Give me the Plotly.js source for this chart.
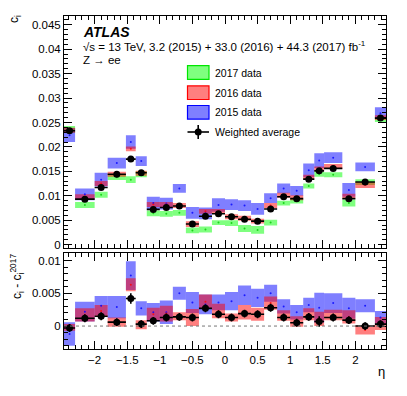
<!DOCTYPE html>
<html>
<head>
<meta charset="utf-8">
<script src="https://cdn.plot.ly/plotly-3.0.1.min.js"></script>
<style>html,body{margin:0;padding:0;background:#fff;}#plot{width:407px;height:396px;}</style>
</head>
<body>
<div id="plot"></div>
<script>
// ---- data ----
const etaEdges = [-2.47,-2.3,-2.0,-1.8,-1.52,-1.37,-1.2,-1.0,-0.8,-0.6,-0.4,-0.2,0,0.2,0.4,0.6,0.8,1.0,1.2,1.37,1.52,1.8,2.0,2.3,2.47];
const c2017 = [0.0236,0.0081,0.0102,0.0138,0.0133,0.0144,0.0064,0.0063,0.0065,0.0029,0.0031,0.0045,0.0044,0.0033,0.0030,0.0045,0.0085,0.0089,0.0120,0.0144,0.0143,0.0085,0.0128,0.0256];
const e2017 = [0.0007,0.0006,0.0006,0.0006,0.0007,0.0006,0.0006,0.0006,0.0006,0.0006,0.0006,0.0005,0.0006,0.0007,0.0008,0.0006,0.0005,0.0005,0.0005,0.0005,0.0005,0.0007,0.0006,0.0005];
// differences with respect to 2017 (lower panel)
const d2016 = [-0.0002,0.0017,0.0023,0.0006,0.0063,0.0002,0.0018,0.0019,0.0015,0.0013,0.0037,0.0023,0.0013,0.0021,0.0018,0.0035,0.0016,0.0007,0.0018,0.0011,0.0017,0.0014,-0.0006,0.0004];
const d2015 = [-0.0012,0.0022,0.0031,0.0029,0.0077,0.0027,0.0021,0.0021,0.0050,0.0036,0.0033,0.0036,0.0038,0.0047,0.0043,0.0050,0.0030,0.0021,0.0032,0.0028,0.0035,0.0027,0.0031,0.0013];
const dAvg  = [-0.0003,0.0012,0.0015,0.0006,0.0042,0.0003,0.0008,0.0013,0.0014,0.0013,0.0027,0.0018,0.0013,0.0019,0.0018,0.0028,0.0013,0.0005,0.0014,0.0007,0.0013,0.0009,0.0000,0.0003];
// uncertainties, upper panel
const e2016 = [0.0005,0.0005,0.0005,0.0005,0.0005,0.0005,0.0005,0.0005,0.0005,0.0006,0.0005,0.0005,0.0005,0.0005,0.0005,0.0005,0.0005,0.0005,0.0005,0.0005,0.0005,0.0005,0.0006,0.0005];
const e2015 = [0.0014,0.0012,0.0014,0.0011,0.0014,0.0010,0.0013,0.0012,0.0009,0.0012,0.0012,0.0014,0.0011,0.0011,0.0012,0.0010,0.0010,0.0010,0.0014,0.0015,0.0011,0.0014,0.0009,0.0012];
const eAvgTop = [0.0004,0.0004,0.0004,0.0004,0.0005,0.0004,0.0004,0.0004,0.0004,0.0004,0.0004,0.0004,0.0004,0.0004,0.0004,0.0004,0.0004,0.0004,0.0004,0.0005,0.0004,0.0004,0.0004,0.0004];
// uncertainties, lower panel
const ed2016 = [0.0005,0.0010,0.0009,0.0007,0.0010,0.0007,0.0010,0.0012,0.0006,0.0013,0.0011,0.0011,0.0006,0.0011,0.0010,0.0010,0.0008,0.0008,0.0009,0.0011,0.0008,0.0010,0.0007,0.0010];
const ed2015 = [0.0018,0.0015,0.0015,0.0017,0.0022,0.0011,0.0014,0.0018,0.0010,0.0016,0.0015,0.0012,0.0014,0.0015,0.0014,0.0013,0.0011,0.0011,0.0011,0.0023,0.0015,0.0016,0.0010,0.0010];
const eAvgBot = [0.0006,0.0006,0.0006,0.0006,0.0008,0.0006,0.0006,0.0006,0.0006,0.0006,0.0006,0.0006,0.0006,0.0006,0.0006,0.0006,0.0006,0.0006,0.0006,0.0008,0.0006,0.0006,0.0006,0.0006];
const legendLabels = ['2017 data','2016 data','2015 data','Weighted average'];

// ---- derived ----
const centers = etaEdges.slice(0,-1).map((e,i)=> (e+etaEdges[i+1])/2);
const widths  = etaEdges.slice(0,-1).map((e,i)=> etaEdges[i+1]-e);
const halfW   = widths.map(w=>w/2);
const c2016 = c2017.map((v,i)=>v+d2016[i]);
const c2015 = c2017.map((v,i)=>v+d2015[i]);
const cAvg  = c2017.map((v,i)=>v+dAvg[i]);

const GREEN='rgba(0,255,0,0.5)', RED='rgba(255,0,0,0.5)', BLUE='rgba(0,0,255,0.5)';
const FONT='Liberation Sans, Arial, sans-serif';

function boxes(vals, errs, color, xa, ya){
  return {type:'bar', x:centers, y:errs.map(e=>2*e), base:vals.map((v,i)=>v-errs[i]),
    width:widths, marker:{color:color, line:{width:0}}, xaxis:xa, yaxis:ya,
    showlegend:false, hoverinfo:'skip'};
}
function dots(vals, color, xa, ya){
  return {type:'scatter', mode:'markers', x:centers, y:vals, marker:{color:color,size:2},
    xaxis:xa, yaxis:ya, showlegend:false, hoverinfo:'skip'};
}
function avgPts(vals, errs, xa, ya){
  return {type:'scatter', mode:'markers', x:centers, y:vals,
    marker:{color:'black', size:7},
    error_x:{type:'data', array:halfW, visible:true, width:0, thickness:1.6, color:'black'},
    error_y:{type:'data', array:errs, visible:true, width:0, thickness:1.6, color:'black'},
    xaxis:xa, yaxis:ya, showlegend:false, hoverinfo:'skip'};
}

const data = [
  boxes(c2017, e2017, GREEN, 'x','y'),
  boxes(c2015, e2015, BLUE, 'x','y'),
  boxes(c2016, e2016, RED, 'x','y'),
  dots(c2017, 'rgba(0,200,0,0.8)', 'x','y'),
  dots(c2015, 'rgba(0,0,255,0.8)', 'x','y'),
  dots(c2016, 'rgba(255,0,0,0.8)', 'x','y'),
  avgPts(cAvg, eAvgTop, 'x','y'),
  boxes(d2015, ed2015, BLUE, 'x2','y2'),
  boxes(d2016, ed2016, RED, 'x2','y2'),
  dots(d2015, 'rgba(0,0,255,0.8)', 'x2','y2'),
  dots(d2016, 'rgba(255,0,0,0.8)', 'x2','y2'),
  avgPts(dAvg, eAvgBot, 'x2','y2')
];

// pixel -> paper helpers for the plot frame (64..386 x, 16..349 y)
const L=64, R=21, T=16, B=47, W=407, H=396;
const PW=W-L-R, PH=H-T-B;
const px=p=>(p-L)/PW, py=p=>(H-B-p)/PH;

const tickFont={family:FONT,size:11.5,color:'black'};
const xCommon={range:[-2.47,2.47], showline:true, linecolor:'black', linewidth:1, mirror:'ticks',
  ticks:'inside', ticklen:8, tickcolor:'black', tick0:0, dtick:0.5, showgrid:false, zeroline:false,
  minor:{dtick:0.1, tick0:0, ticks:'inside', ticklen:4, tickcolor:'black', showgrid:false}, tickfont:tickFont};
const yCommon={showline:true, linecolor:'black', linewidth:1, mirror:'ticks', ticks:'inside', ticklen:8,
  tickcolor:'black', showgrid:false, zeroline:false, tickfont:tickFont};

const shapes=[
  {type:'line', xref:'x2', yref:'y2', x0:-2.47, x1:2.47, y0:0, y1:0, line:{color:'#777', width:1, dash:'dot'}}
];
const legColors=[[GREEN,'rgb(0,230,0)'],[RED,'rgb(255,0,0)'],[BLUE,'rgb(0,0,255)']];
const legY=[72.5,92.7,112.3];
legColors.forEach((c,i)=>{
  shapes.push({type:'rect', xref:'paper', yref:'paper', x0:px(187.5), x1:px(209), y0:py(legY[i]+6.8), y1:py(legY[i]-6.8),
    fillcolor:c[0], line:{color:c[1], width:1.2}});
});
// weighted average legend symbol
shapes.push({type:'line', xref:'paper', yref:'paper', x0:px(187.5), x1:px(209), y0:py(132), y1:py(132), line:{color:'black',width:1.6}});
shapes.push({type:'line', xref:'paper', yref:'paper', x0:px(198.2), x1:px(198.2), y0:py(125), y1:py(139), line:{color:'black',width:1.6}});
shapes.push({type:'circle', xref:'paper', yref:'paper', x0:px(194.7), x1:px(201.7), y0:py(135.5), y1:py(128.5), fillcolor:'black', line:{color:'black',width:0}});

const annotations=[
  {text:'<b><i>ATLAS</i></b>', xref:'paper', yref:'paper', x:px(81), y:py(32), xanchor:'left', yanchor:'middle', showarrow:false, font:{family:FONT,size:14,color:'black'}},
  {text:'√s = 13 TeV, 3.2 (2015) + 33.0 (2016) + 44.3 (2017) fb<sup>-1</sup>', xref:'paper', yref:'paper', x:px(81), y:py(46), xanchor:'left', yanchor:'middle', showarrow:false, font:{family:FONT,size:11.5,color:'black'}},
  {text:'Z → ee', xref:'paper', yref:'paper', x:px(81), y:py(60), xanchor:'left', yanchor:'middle', showarrow:false, font:{family:FONT,size:11.5,color:'black'}},
  {text:'c<sub>i</sub>', xref:'paper', yref:'paper', x:px(15), y:py(19), xanchor:'center', yanchor:'middle', textangle:-90, showarrow:false, font:{family:FONT,size:12,color:'black'}},
  {text:'c<sub>i</sub> - c<sub>i</sub><sup>2017</sup>', xref:'paper', yref:'paper', x:px(17), y:py(277), xanchor:'center', yanchor:'middle', textangle:-90, showarrow:false, font:{family:FONT,size:12,color:'black'}},
  {text:'η', xref:'paper', yref:'paper', x:px(381), y:py(371), xanchor:'center', yanchor:'middle', showarrow:false, font:{family:FONT,size:13,color:'black'}}
];
legendLabels.forEach((t,i)=>{
  const y = i<3 ? legY[i] : 132;
  annotations.push({text:t, xref:'paper', yref:'paper', x:px(213), y:py(y), xanchor:'left', yanchor:'middle', showarrow:false, font:{family:FONT,size:10.5,color:'black'}});
});

const layout={
  width:W, height:H, margin:{l:L,r:R,t:T,b:B,pad:0},
  paper_bgcolor:'white', plot_bgcolor:'white', barmode:'overlay', showlegend:false,
  font:{family:FONT,color:'black'},
  xaxis:Object.assign({}, xCommon, {anchor:'y', domain:[0,1], showticklabels:false}),
  yaxis:Object.assign({}, yCommon, {anchor:'x', domain:[py(248.3),1], range:[-0.00076,0.0468], tick0:0, dtick:0.005,
    minor:{dtick:0.001, tick0:0, ticks:'inside', ticklen:4, tickcolor:'black', showgrid:false}}),
  xaxis2:Object.assign({}, xCommon, {anchor:'y2', domain:[0,1], showticklabels:true}),
  yaxis2:Object.assign({}, yCommon, {anchor:'x2', domain:[0,py(253.3)], range:[-0.0035,0.0111], tickvals:[0,0.005,0.01], ticktext:['0','0.005','0.01'],
    minor:{dtick:0.001, tick0:0, ticks:'inside', ticklen:4, tickcolor:'black', showgrid:false}}),
  shapes:shapes, annotations:annotations
};
Plotly.newPlot('plot', data, layout, {staticPlot:true, displayModeBar:false});
</script>
</body>
</html>
